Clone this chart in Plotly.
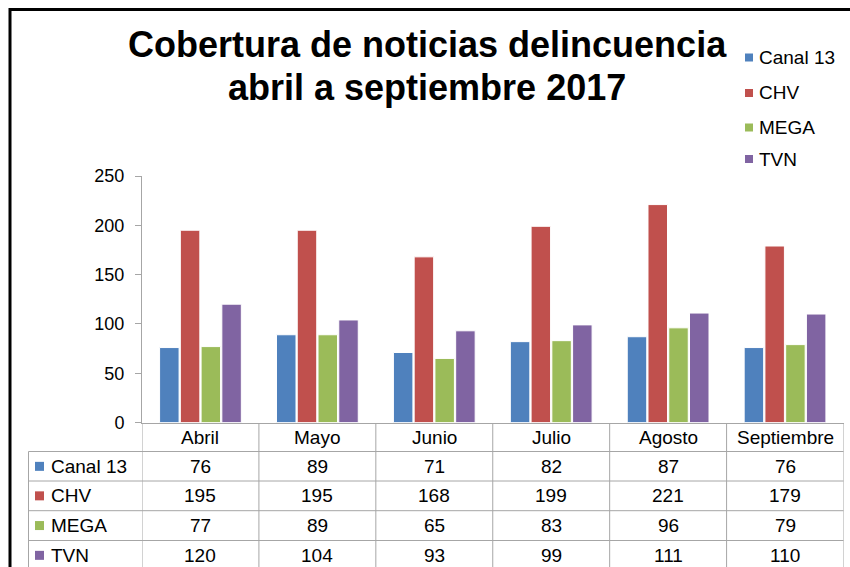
import plotly.graph_objects as go

# ---------------- data ----------------
categories = ["Abril", "Mayo", "Junio", "Julio", "Agosto", "Septiembre"]
series_names = ["Canal 13", "CHV", "MEGA", "TVN"]
canal13 = [76, 89, 71, 82, 87, 76]
chv = [195, 195, 168, 199, 221, 179]
mega = [77, 89, 65, 83, 96, 79]
tvn = [120, 104, 93, 99, 111, 110]
y_ticks = [0, 50, 100, 150, 200, 250]
title_lines = ["Cobertura de noticias delincuencia", "abril a septiembre 2017"]

series_values = [canal13, chv, mega, tvn]
colors = ["#4F81BD", "#C0504D", "#9BBB59", "#8064A2"]

W, H = 850, 567
FONT = "Liberation Sans, Arial, sans-serif"
GRID = "#A6A6A6"


def px(x):
    return min(max(x / W, 0), 1)


def py(y):
    return min(max(1 - y / H, 0), 1)


fig = go.Figure()
for name, vals, col in zip(series_names, series_values, colors):
    fig.add_bar(
        x=categories, y=vals, name=name,
        marker=dict(color=col, line=dict(color="white", width=1)),
        showlegend=False,
    )

shapes = []
annotations = []

# outer frame (left and top edges)
shapes.append(dict(type="line", xref="paper", yref="paper", x0=px(10), x1=px(850),
                   y0=py(9.5), y1=py(9.5), line=dict(color="black", width=3)))
shapes.append(dict(type="line", xref="paper", yref="paper", x0=px(10), x1=px(10),
                   y0=py(8), y1=py(567), line=dict(color="black", width=3)))

# title
for line, yc in zip(title_lines, [44.5, 87.5]):
    annotations.append(dict(text=line, xref="paper", yref="paper", x=px(427), y=py(yc),
                            xanchor="center", yanchor="middle", showarrow=False,
                            font=dict(family=FONT, size=36, color="black", weight="bold")))

# legend (top right)
leg_rows = [57.5, 93, 127.5, 159]
for name, col, yc in zip(series_names, colors, leg_rows):
    shapes.append(dict(type="rect", xref="paper", yref="paper", x0=px(745), x1=px(753),
                       y0=py(yc - 4), y1=py(yc + 4), fillcolor=col, line=dict(width=0)))
    annotations.append(dict(text=name, xref="paper", yref="paper", x=px(757), y=py(yc),
                            xanchor="left", yanchor="middle", showarrow=False,
                            font=dict(family=FONT, size=19, color="black")))

# data table under the plot
row_lines = [451.5, 481, 510.7, 540.5]
row_h = 29.7
n = len(categories)
for k in range(n + 1):
    shapes.append(dict(type="line", xref="x", yref="paper", x0=k - 0.5, x1=k - 0.5,
                       y0=py(423), y1=py(567), line=dict(color=GRID, width=1)))
shapes.append(dict(type="line", xref="paper", yref="paper", x0=px(28.5), x1=px(28.5),
                   y0=py(row_lines[0]), y1=py(567), line=dict(color=GRID, width=1)))
for yl in row_lines:
    shapes.append(dict(type="line", xref="paper", yref="paper", x0=px(28.5), x1=px(843.5),
                       y0=py(yl), y1=py(yl), line=dict(color=GRID, width=1)))
for cat in categories:
    annotations.append(dict(text=cat, xref="x", yref="paper", x=cat, y=py(437.5),
                            xanchor="center", yanchor="middle", showarrow=False,
                            font=dict(family=FONT, size=19, color="black")))
for r, (name, vals, col) in enumerate(zip(series_names, series_values, colors)):
    yc = row_lines[r] + row_h / 2
    shapes.append(dict(type="rect", xref="paper", yref="paper", x0=px(35), x1=px(44),
                       y0=py(yc - 4.5), y1=py(yc + 4.5), fillcolor=col, line=dict(width=0)))
    annotations.append(dict(text=name, xref="paper", yref="paper", x=px(49), y=py(yc),
                            xanchor="left", yanchor="middle", showarrow=False,
                            font=dict(family=FONT, size=19, color="black")))
    for cat, v in zip(categories, vals):
        annotations.append(dict(text=str(v), xref="x", yref="paper", x=cat, y=py(yc),
                                xanchor="center", yanchor="middle", showarrow=False,
                                font=dict(family=FONT, size=19, color="black")))

fig.update_layout(
    width=W, height=H,
    margin=dict(l=0, r=0, t=0, b=0, pad=0),
    paper_bgcolor="white", plot_bgcolor="white",
    barmode="group", bargap=0.29, bargroupgap=0.06,
    font=dict(family=FONT, color="black"),
    showlegend=False,
    shapes=shapes,
    annotations=annotations,
    xaxis=dict(
        domain=[142 / W, 843.5 / W],
        range=[-0.5, n - 0.5],
        showticklabels=False, ticks="",
        showline=True, linecolor=GRID, linewidth=1,
        showgrid=False, zeroline=False, automargin=False,
    ),
    yaxis=dict(
        domain=[1 - 422.5 / H, 1 - 176 / H],
        range=[0, 250],
        tickvals=y_ticks,
        ticks="outside", ticklen=6, tickcolor=GRID,
        showline=True, linecolor=GRID, linewidth=1,
        showgrid=False, zeroline=False, automargin=False,
        tickfont=dict(family=FONT, size=18, color="black"),
        ticklabelstandoff=7,
    ),
)

fig.write_html(
    "out.html",
    post_script="document.body.style.margin='0';document.documentElement.style.overflow='hidden';",
    config={"displayModeBar": False},
)
